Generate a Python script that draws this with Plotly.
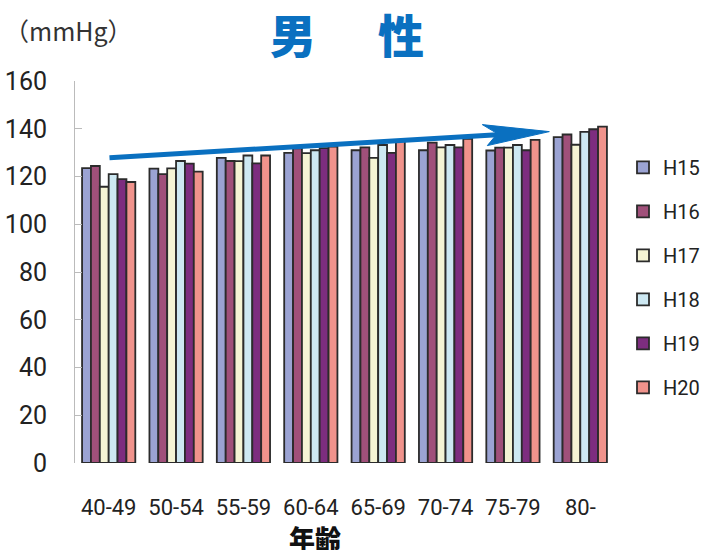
import plotly.graph_objects as go

age_groups = ["40-49", "50-54", "55-59", "60-64", "65-69", "70-74", "75-79", "80-"]
years = ["H15", "H16", "H17", "H18", "H19", "H20"]

h15 = [123.5, 123.3, 127.8, 129.9, 131.0, 131.0, 130.9, 136.5]
h16 = [124.4, 121.0, 126.5, 131.8, 132.2, 134.2, 132.1, 137.6]
h17 = [115.7, 123.4, 126.4, 129.8, 127.8, 132.2, 132.1, 133.3]
h18 = [121.0, 126.5, 128.8, 131.0, 133.2, 133.2, 133.2, 138.7]
h19 = [118.9, 125.4, 125.5, 131.9, 129.9, 132.2, 131.0, 139.8]
h20 = [117.7, 122.0, 128.8, 132.5, 134.8, 135.8, 135.3, 140.9]

series = [h15, h16, h17, h18, h19, h20]
colors = ["#9BA3D3", "#A0507A", "#F5F4D4", "#CDE8F2", "#7D2D7F", "#F0938C"]

y_ticks = [0, 20, 40, 60, 80, 100, 120, 140, 160]

# trend arrow (category index, value)
trend_start = (0.012, 127.85)
trend_end = (6.54, 138.8)

NUM_FONT = "Roboto, Liberation Sans, sans-serif"
CJK_FONT = "Noto Sans CJK JP"

W, H = 704, 555
legend_left_px = 623

fig = go.Figure()
for name, vals, col in zip(years, series, colors):
    fig.add_trace(go.Bar(
        x=age_groups, y=vals, name=name, legendgroup=name,
        marker=dict(color=col, line=dict(color="#2b2b2b", width=1.8)),
    ))

# arrow line (ends under the head)
frac = 0.91
lx1 = trend_start[0] + frac * (trend_end[0] - trend_start[0])
ly1 = trend_start[1] + frac * (trend_end[1] - trend_start[1])
fig.add_shape(type="line", xref="x", yref="y",
              x0=trend_start[0], y0=trend_start[1], x1=lx1, y1=ly1,
              line=dict(color="#0A70C0", width=5))
fig.add_shape(type="path", xref="x", yref="y",
              xsizemode="pixel", ysizemode="pixel",
              xanchor=trend_end[0], yanchor=trend_end[1],
              path="M 0 0 L -67 7 L -52 -2 L -62 -14 Z",
              fillcolor="#0A70C0", line=dict(color="#0A70C0", width=1))

fig.update_layout(
    width=W, height=H,
    margin=dict(l=75, r=90, t=81, b=92),
    paper_bgcolor="white", plot_bgcolor="white",
    barmode="group", bargap=0.21, bargroupgap=0.0,
    showlegend=True,
    legend=dict(xref="container", x=legend_left_px / W, y=0.825,
                xanchor="left", yanchor="top",
                font=dict(family=NUM_FONT, size=20, color="#222"),
                itemwidth=30, borderwidth=0,
                tracegroupgap=15, bgcolor="rgba(0,0,0,0)"),
    xaxis=dict(type="category", showline=False, ticks="", showgrid=False,
               automargin=False, tickangle=0,
               tickfont=dict(family=NUM_FONT, size=22, color="#222"),
               ticklabelstandoff=29),
    yaxis=dict(range=[0, 160], tickvals=y_ticks, showgrid=False, zeroline=False,
               automargin=False,
               showline=True, linecolor="#bbbbbb", linewidth=1,
               ticks="inside", ticklen=7, tickcolor="#bbbbbb",
               tickfont=dict(family=NUM_FONT, size=25, color="#222"),
               ticklabelstandoff=22),
    annotations=[
        dict(text="男", x=0.405, y=1.125, xref="paper", yref="paper",
             showarrow=False, xanchor="center", yanchor="middle",
             font=dict(family=CJK_FONT, size=46, color="#0A70C0", weight=900)),
        dict(text="性", x=0.605, y=1.125, xref="paper", yref="paper",
             showarrow=False, xanchor="center", yanchor="middle",
             font=dict(family=CJK_FONT, size=46, color="#0A70C0", weight=900)),
        dict(text="（mmHg）", x=-0.1354, y=1.1326, xref="paper", yref="paper",
             showarrow=False, xanchor="left", yanchor="middle",
             font=dict(family=CJK_FONT, size=25, color="#333")),
        dict(text="年齢", x=0.445, y=-0.1936, xref="paper", yref="paper",
             showarrow=False, xanchor="center", yanchor="middle", height=26,
             font=dict(family=CJK_FONT, size=26, color="#111", weight=900)),
    ],
)

fig.write_html("out.html")
